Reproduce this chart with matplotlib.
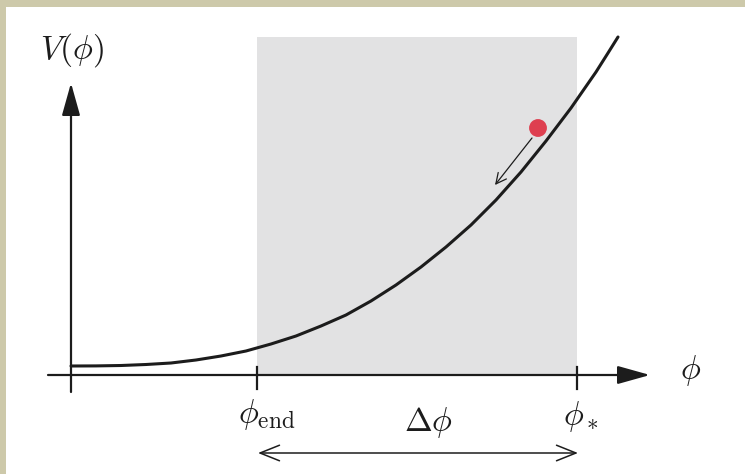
import numpy as np
import matplotlib
matplotlib.use("Agg")
import matplotlib.pyplot as plt
from matplotlib.patches import Rectangle

plt.rcParams['mathtext.fontset'] = 'cm'

# potential V(phi) (arbitrary units)
phi = [0.0, 0.25, 0.5, 0.75, 1.0, 1.25, 1.5, 1.75, 2.0, 2.25, 2.5, 2.75,
       3.0, 3.25, 3.5, 3.75, 4.0, 4.25, 4.5, 4.75, 5.0, 5.125, 5.25, 5.37, 5.47]
V = [0.09, 0.091, 0.095, 0.105, 0.12, 0.15, 0.19, 0.24, 0.31, 0.39, 0.49, 0.60,
     0.74, 0.90, 1.08, 1.28, 1.50, 1.75, 2.03, 2.34, 2.67, 2.85, 3.03, 3.22, 3.38]

phi_end = 1.86
phi_star = 5.06
band_top = 3.38

# rolling ball and its direction of motion
ball = (4.67, 2.47)
roll_from = (4.61, 2.37)
roll_to = (4.24, 1.90)

ink = '#1c1c1c'

fig = plt.figure(figsize=(7.45, 4.74), dpi=100)
ax = fig.add_axes([0, 0, 1, 1])
ax.set_xlim(-0.71, 6.74)
ax.set_ylim(-0.99, 3.75)
ax.axis('off')

# shaded region between phi_end and phi_*
ax.add_patch(Rectangle((phi_end, 0), phi_star - phi_end, band_top,
                       facecolor='#e2e2e3', edgecolor='none', zorder=0))

# axes with arrow heads
head = '-|>,head_length=1.0,head_width=0.28'
ax.annotate('', xy=(5.79, 0), xytext=(-0.23, 0),
            arrowprops=dict(arrowstyle=head, mutation_scale=20, lw=1.6, color=ink,
                            shrinkA=0, shrinkB=0), zorder=3)
ax.annotate('', xy=(0, 2.92), xytext=(0, -0.17),
            arrowprops=dict(arrowstyle=head, mutation_scale=20, lw=1.6, color=ink,
                            shrinkA=0, shrinkB=0), zorder=3)

# ticks at phi_end and phi_*
for p in [phi_end, phi_star]:
    ax.plot([p, p], [0.08, -0.14], color=ink, lw=1.6, zorder=3)

# the potential
ax.plot(phi, V, color=ink, lw=2.2, solid_capstyle='round',
        solid_joinstyle='round', zorder=4)

# ball rolling down
ax.scatter([ball[0]], [ball[1]], s=165, color='#de3f50', edgecolors='none', zorder=5)
ax.annotate('', xy=roll_to, xytext=roll_from,
            arrowprops=dict(arrowstyle='->,head_length=0.5,head_width=0.25',
                            mutation_scale=15, lw=0.9, color=ink,
                            shrinkA=0, shrinkB=0), zorder=5)

# Delta phi span
ax.annotate('', xy=(phi_star + 0.01, -0.78), xytext=(phi_end + 0.01, -0.78),
            arrowprops=dict(arrowstyle='<->,head_length=0.7,head_width=0.28',
                            mutation_scale=20, lw=1.1, color=ink,
                            shrinkA=0, shrinkB=0))

# labels
fs = 24
ax.text(0.01, 3.25, r'$V(\phi)$', fontsize=fs, color=ink, ha='center', va='center')
ax.text(6.20, 0.05, r'$\phi$', fontsize=fs, color=ink, ha='center', va='center')
ax.text(phi_end + 0.10, -0.40, r'$\phi_{\rm end}$', fontsize=fs, color=ink, ha='center', va='center')
ax.text(3.57, -0.48, r'$\Delta\phi$', fontsize=fs, color=ink, ha='center', va='center')
ax.text(phi_star + 0.04, -0.42, r'$\phi_\ast$', fontsize=fs, color=ink, ha='center', va='center')

# beige frame on top and left
beige = '#cdc9aa'
fig.patches.append(Rectangle((0, 1 - 7 / 474), 1, 7 / 474, transform=fig.transFigure,
                             facecolor=beige, edgecolor='none', zorder=10))
fig.patches.append(Rectangle((0, 0), 6 / 745, 1, transform=fig.transFigure,
                             facecolor=beige, edgecolor='none', zorder=10))

fig.savefig('out.png', dpi=100)
